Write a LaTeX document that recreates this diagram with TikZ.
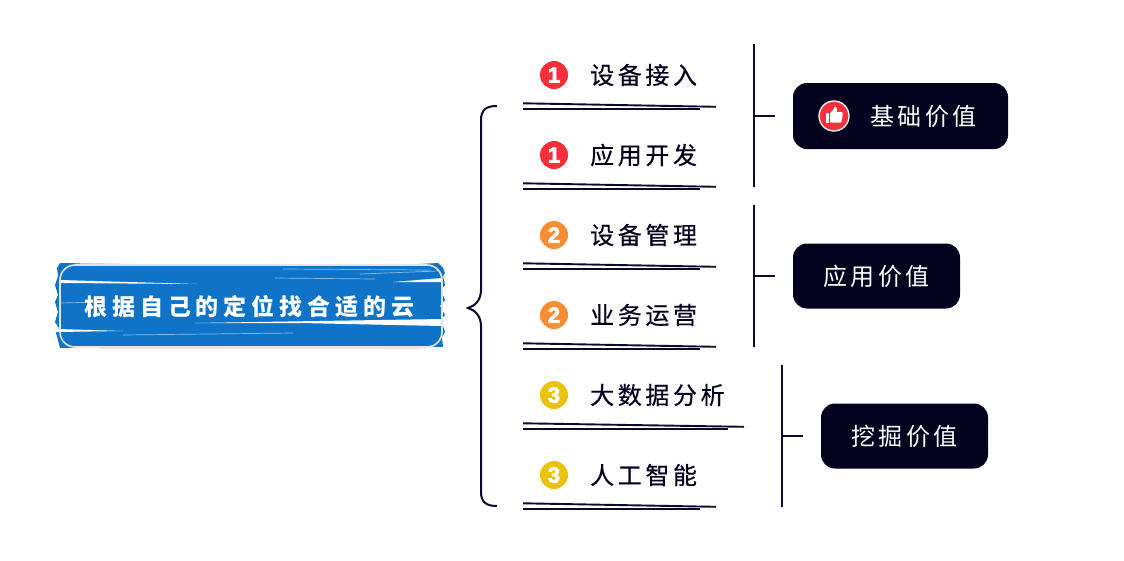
\documentclass[tikz,border=0pt]{standalone}
\usepackage{fontspec}
\setmainfont{Liberation Sans}
\newfontfamily\cjkreg[LetterSpace=15]{Noto Sans CJK SC}
\newfontfamily\cjkitem[LetterSpace=15,FakeBold=0.5]{Noto Sans CJK SC}
\newfontfamily\cjkbold[LetterSpace=21.5]{Noto Sans CJK SC}
\newfontfamily\numfont[FakeBold=3]{Liberation Sans}
\definecolor{ink}{HTML}{03031F}
\definecolor{inkline}{HTML}{0A0A2E}
\definecolor{inkgrey}{HTML}{7C7C96}
\definecolor{mainblue}{HTML}{0F74C8}
\definecolor{badgered}{HTML}{F5303A}
\definecolor{badgeorange}{HTML}{F78E35}
\definecolor{badgeyellow}{HTML}{EBC20C}
\definecolor{rimgrey}{HTML}{E4E4EA}
\tikzset{
  x=1pt,y=-1pt,
  itemtext/.style={anchor=west,inner sep=0pt,text=ink,font=\fontsize{24}{28}\selectfont\cjkitem},
  boxtext/.style={anchor=west,inner sep=0pt,text=white,font=\fontsize{24}{28}\selectfont\cjkreg},
  maintext/.style={anchor=west,inner sep=0pt,text=white,font=\fontsize{23}{27}\selectfont\cjkbold\bfseries},
  badge/.style={circle,minimum size=28pt,inner sep=0pt,text=white,font=\fontsize{22}{24}\selectfont\numfont\bfseries},
  darkbox/.style={fill=ink,rounded corners=14pt,inner sep=0pt},
  bar/.style={draw=inkline,line width=2.2pt},
  bracket/.style={draw=inkline,line width=2pt},
  tick/.style={draw=inkline,line width=1.6pt},
  under/.style={draw=inkline,line width=1.9pt},
  undergrey/.style={draw=inkgrey,line width=1.5pt},
  streak/.style={fill=white,draw=none},
  faint/.style={draw=white!50!mainblue,line width=.7pt},
}
\begin{document}
\begin{tikzpicture}
\useasboundingbox (0,0) rectangle (1124,560);
\fill[white] (0,0) rectangle (1124,560);

% main box: blue brush fill with jagged ends
\fill[mainblue] (60,263) -- (120,264) -- (380,266) -- (438,263) -- (443,268) -- (445,273)
  -- (443,276) -- (445,285) -- (441,290) -- (445,300) -- (440,306) -- (445,315)
  -- (441,320) -- (445,332) -- (442,337) -- (443,347) -- (380,346) -- (120,347) -- (60,348)
  -- (58,340) -- (56,333) -- (59,328) -- (55,322) -- (58,312) -- (55,302) -- (58,295) -- (55,285)
  -- (58,276) -- (57,268) -- cycle;
\fill[streak] (60,280) -- (197,284) -- (60,283) -- cycle;
\fill[streak] (393,282) -- (442,278) -- (442,282) -- cycle;
\fill[streak] (195,323) -- (442,319) -- (442,326) -- (300,323) -- cycle;
\fill[streak] (57,329) -- (123,331) -- (57,332) -- cycle;
\draw[faint] (123,335) -- (293,333);
\draw[faint] (275,278) -- (375,279);
\draw[faint] (283,269) -- (430,270);
\draw[faint] (60,303) -- (100,302);
\draw[faint] (360,274) -- (438,271);
\draw[rimgrey,line width=1.6pt,rounded corners=15pt] (60,265) rectangle (442,347);
\draw[rimgrey,line width=1.4pt] (80,264) -- (165,265);
\draw[rimgrey,line width=1.6pt] (100,348) -- (420,348.5);
\node[maintext] (mainlabel) at (84,307) {根据自己的定位找合适的云};

% brace
\coordinate (bracetop) at (497,106);
\coordinate (bracetip) at (468,308);
\coordinate (bracebot) at (497,506);
\draw[bracket] (bracetop) .. controls (486,106) and (481,110) .. (481,120)
  -- (481,290) .. controls (481,300) and (475,306) .. (bracetip)
  .. controls (475,310) and (481,316) .. (481,326)
  -- (481,492) .. controls (481,502) and (486,506) .. (bracebot);

% rows
\foreach \nm/\yy/\col/\num/\txt/\xe in {
  a/75/badgered/1/设备接入/716,
  b/155/badgered/1/应用开发/716,
  c/235/badgeorange/2/设备管理/716,
  d/315/badgeorange/2/业务运营/716,
  e/395/badgeyellow/3/大数据分析/744,
  f/475/badgeyellow/3/人工智能/716}{
  \node[badge,fill=\col] (badge\nm) at (554,\yy) {\num};
  \node[itemtext] (label\nm) at (590,\yy) {\txt};
  \pgfmathsetmacro{\ya}{\yy+28.3}
  \pgfmathsetmacro{\yb}{\yy+31.8}
  \pgfmathsetmacro{\yc}{\yy+34.2}
  \pgfmathsetmacro{\yg}{\yy+34.7}
  \pgfmathsetmacro{\xd}{\xe-16}
  \pgfmathsetmacro{\xh}{\xe-29}
  \pgfmathsetmacro{\xg}{\xe-93}
  \coordinate (ua\nm) at (523,\ya);
  \coordinate (ub\nm) at (\xe,\yb);
  \coordinate (uc\nm) at (523,\yc);
  \coordinate (ud\nm) at (\xd,\yc);
  \coordinate (ug\nm) at (\xg,\yg);
  \coordinate (uh\nm) at (\xh,\yg);
  \draw[undergrey] (ug\nm) -- (uh\nm);
  \draw[under] (ua\nm) -- (ub\nm);
  \draw[under] (uc\nm) -- (ud\nm);
}

% vertical bars
\coordinate (b1t) at (754,44);  \coordinate (b1b) at (754,187); \coordinate (b1m) at (754,116); \coordinate (t1) at (775,116);
\coordinate (b2t) at (754,205); \coordinate (b2b) at (754,347); \coordinate (b2m) at (754,276); \coordinate (t2) at (775,276);
\coordinate (b3t) at (782,365); \coordinate (b3b) at (782,507); \coordinate (b3m) at (782,436); \coordinate (t3) at (803,436);
\draw[bar] (b1t) -- (b1b);
\draw[bar] (b2t) -- (b2b);
\draw[bar] (b3t) -- (b3b);
\draw[tick] (b1m) -- (t1);
\draw[tick] (b2m) -- (t2);
\draw[tick] (b3m) -- (t3);

% dark boxes
\node[darkbox,minimum width=215pt,minimum height=66pt] (box1) at (900.5,116) {};
\node[darkbox,minimum width=167pt,minimum height=65pt] (box2) at (876.5,276) {};
\node[darkbox,minimum width=167pt,minimum height=65pt] (box3) at (904.5,436) {};
\node[boxtext] (box1text) at (870,116) {基础价值};
\node[boxtext] (box2text) at (823,276) {应用价值};
\node[boxtext] (box3text) at (851,436) {挖掘价值};

% thumbs-up icon
\node[circle,fill=badgered,draw=white,line width=1.3pt,minimum size=30pt,inner sep=0pt] (thumb) at (834,116) {};
\fill[white] (825.5,113) rectangle (829,122.5);
\fill[white,rounded corners=.8pt] (830,113) -- (833.5,109.5) -- (834.5,106.5) -- (836.5,107) -- (837,110) -- (836.3,112)
  -- (842.5,112) -- (842.8,114) -- (841.5,122.5) -- (830,122.5) -- cycle;
\end{tikzpicture}
\end{document}
